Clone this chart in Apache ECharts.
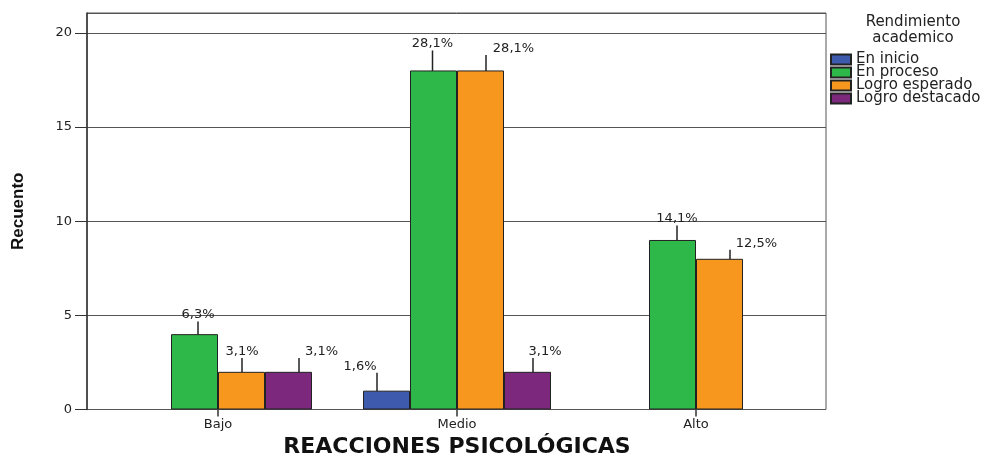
<!DOCTYPE html>
<html>
<head>
    <meta charset="utf-8"/>
    <title>Reacciones psicologicas</title>
    <script src="https://cdn.jsdelivr.net/npm/echarts@6/dist/echarts.min.js"></script>
    <style>
        html, body { margin: 0; padding: 0; background: #fff; }
        #main { width: 1003px; height: 455px; }
    </style>
</head>
<body>
<div id="main"></div>
<script>
    // datos
    var categories = ['Bajo', 'Medio', 'Alto'];
    var seriesNames = ['En inicio', 'En proceso', 'Logro esperado', 'Logro destacado'];
    var enInicio = [0, 1, 0];
    var enProceso = [4, 18, 9];
    var logroEsperado = [2, 18, 8];
    var logroDestacado = [2, 2, 0];
    var pctEnInicio = ['', '1,6%', ''];
    var pctEnProceso = ['6,3%', '28,1%', '14,1%'];
    var pctLogroEsperado = ['3,1%', '28,1%', '12,5%'];
    var pctLogroDestacado = ['3,1%', '3,1%', ''];

    var counts = [enInicio, enProceso, logroEsperado, logroDestacado];
    var pcts = [pctEnInicio, pctEnProceso, pctLogroEsperado, pctLogroDestacado];
    var colors = ['#3d5aad', '#2fb84a', '#f7971e', '#7b287d'];
    var font = 'DejaVu Sans';

    // etiqueta (serie-categoria): [dx, dy, relleno izq, relleno der]
    // el relleno desplaza el punto donde se engancha la linea guia
    var labelNudge = {
        '1-0': [3.5, -12.7, 0, 0], '2-0': [0.5, -13.8, 0, 0], '3-0': [10.5, -13.8, 45, 0],
        '0-1': [-9.5, -18, 0, 34], '1-1': [-1, -20, 0, 0], '2-1': [5.5, -15.5, 55, 0],
        '3-1': [5.5, -13.8, 24, 0],
        '1-2': [4.5, -14.5, 0, 0], '2-2': [10.5, -9, 53, 0]
    };

    var myChart = echarts.init(document.getElementById('main'));

    var series = seriesNames.map(function (name, i) {
        return {
            name: name,
            type: 'bar',
            xAxisIndex: 0,
            yAxisIndex: 1,
            barWidth: 47,
            barGap: '0%',
            itemStyle: { color: colors[i], borderColor: '#222', borderWidth: 1 },
            label: {
                show: true,
                position: 'top',
                distance: 0,
                color: '#222',
                fontFamily: font,
                fontSize: 13,
                backgroundColor: 'rgba(255,255,255,0)',
                formatter: function (p) { return pcts[i][p.dataIndex]; }
            },
            labelLine: { show: true, lineStyle: { color: '#222', width: 1.5 } },
            labelLayout: function (p) {
                var n = labelNudge[p.seriesIndex + '-' + p.dataIndex] || [0, 0];
                return { dx: n[0], dy: n[1] };
            },
            data: counts[i].map(function (v, j) {
                if (v === 0) return '-';
                var n = labelNudge[i + '-' + j] || [0, 0, 0, 0];
                return { value: v, label: { padding: [0, n[3], 0, n[2]] } };
            })
        };
    });

    var option = {
        animation: false,
        color: colors,
        graphic: [{
            type: 'text',
            x: 913,
            y: 14,
            style: {
                text: 'Rendimiento\nacademico',
                textAlign: 'center',
                fill: '#222',
                font: '15px "DejaVu Sans"',
                lineHeight: 16
            }
        }],
        legend: {
            orient: 'vertical',
            left: 830,
            top: 52,
            padding: 0,
            itemWidth: 20,
            itemHeight: 10,
            itemGap: -2,
            icon: 'rect',
            textStyle: { fontFamily: font, fontSize: 15, color: '#222' },
            data: seriesNames
        },
        grid: [
            { left: 98.5, width: 717, top: 13, height: 396.5, outerBoundsMode: 'none' },
            { left: 87, width: 739, top: 13, height: 396.5, outerBoundsMode: 'none', show: true,
              borderColor: '#555', borderWidth: 1, backgroundColor: 'transparent' }
        ],
        xAxis: [
            {
                type: 'category',
                gridIndex: 0,
                data: categories,
                axisLine: { show: false },
                axisTick: { show: true, alignWithLabel: true, length: 7, lineStyle: { color: '#333', width: 1.5 } },
                axisLabel: { margin: 9, color: '#222', fontFamily: font, fontSize: 13 },
                name: 'REACCIONES PSICOLÓGICAS',
                nameLocation: 'middle',
                nameGap: 21,
                nameTextStyle: { fontFamily: font, fontWeight: 'bold', fontSize: 22, color: '#111' }
            },
            { type: 'value', gridIndex: 1, show: false }
        ],
        yAxis: [
            {
                type: 'value',
                gridIndex: 1,
                min: 0,
                max: 21.05,
                interval: 5,
                axisLine: { show: true, lineStyle: { color: '#333', width: 1.5 } },
                axisTick: { show: true, length: 12, lineStyle: { color: '#333' } },
                axisLabel: { margin: 15, color: '#222', fontFamily: font, fontSize: 13, showMaxLabel: false },
                splitLine: { show: true, lineStyle: { color: '#555', width: 1 } },
                name: 'Recuento',
                nameLocation: 'middle',
                nameGap: 60,
                nameTextStyle: { fontFamily: 'Liberation Sans', fontWeight: 'bold', fontSize: 17, color: '#111' }
            },
            { type: 'value', gridIndex: 0, min: 0, max: 21.05, show: false }
        ],
        series: series
    };

    myChart.setOption(option);
</script>
</body>
</html>
